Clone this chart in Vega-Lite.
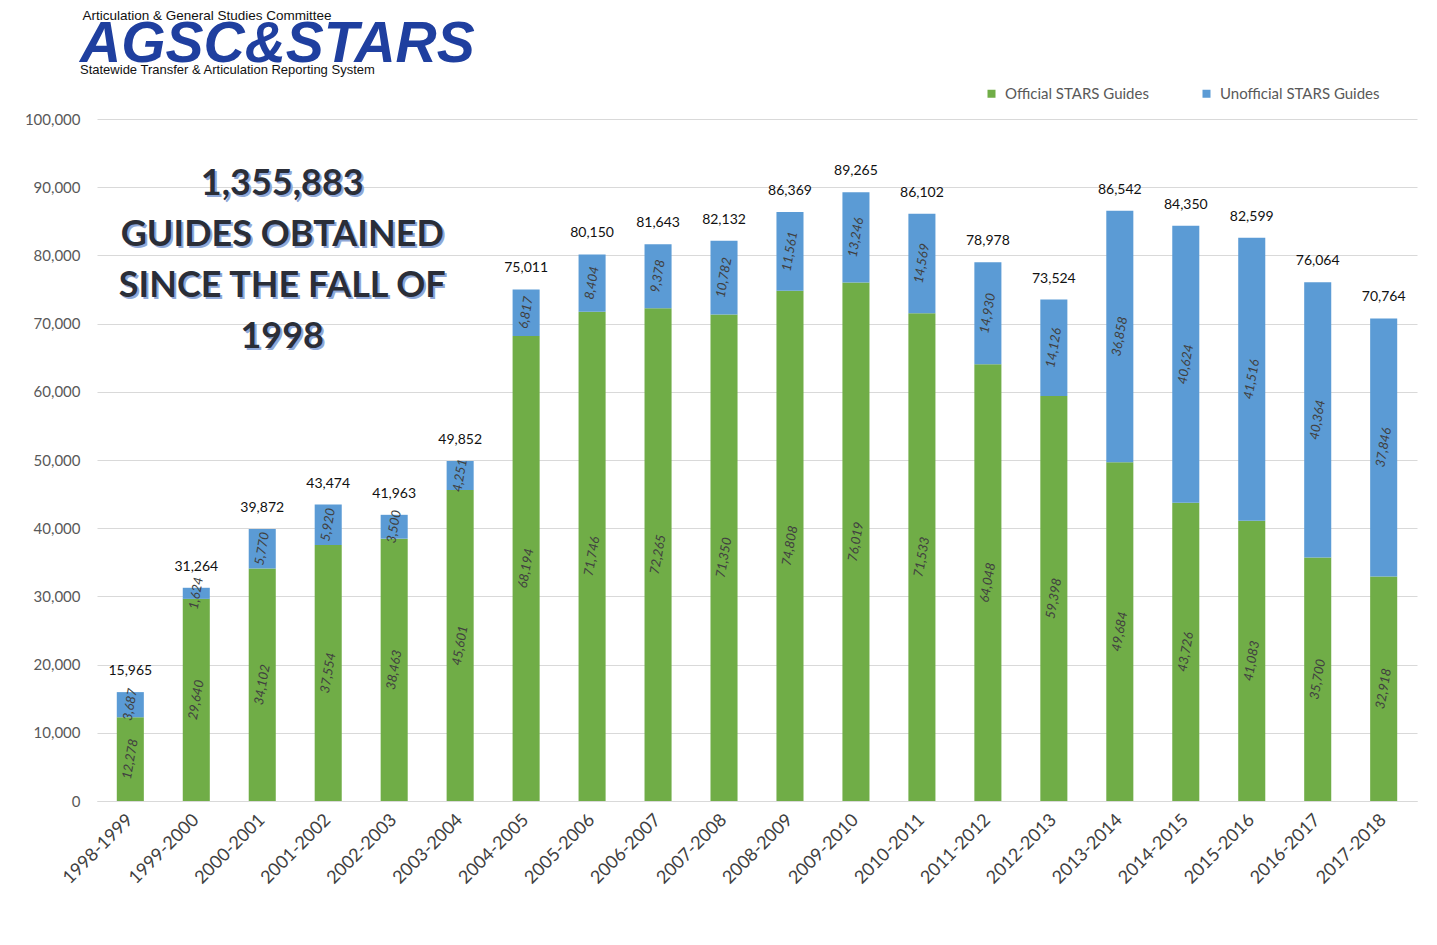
{
  "$schema": "https://vega.github.io/schema/vega-lite/v6.json",
  "width": 1320,
  "height": 682,
  "autosize": "none",
  "padding": {"left": 97, "top": 119, "right": 20, "bottom": 144},
  "background": "white",
  "config": {"view": {"stroke": null}, "font": "Lato"},
  "title": {
    "text": "AGSC&STARS",
    "subtitle": "Statewide Transfer & Articulation Reporting System",
    "anchor": "start",
    "frame": "group",
    "offset": -70,
    "dx": -17,
    "font": "Liberation Sans",
    "fontSize": 57,
    "fontStyle": "italic",
    "fontWeight": "bold",
    "color": "#1f3f9f",
    "subtitleFont": "Liberation Sans",
    "subtitleFontSize": 13,
    "subtitleFontWeight": "normal",
    "subtitleColor": "#111111",
    "subtitlePadding": -10
  },
  "datasets": {
    "guides": [
      {"year": "1998-1999", "type": "Official STARS Guides", "value": 12278},
      {"year": "1998-1999", "type": "Unofficial STARS Guides", "value": 3687},
      {"year": "1999-2000", "type": "Official STARS Guides", "value": 29640},
      {"year": "1999-2000", "type": "Unofficial STARS Guides", "value": 1624},
      {"year": "2000-2001", "type": "Official STARS Guides", "value": 34102},
      {"year": "2000-2001", "type": "Unofficial STARS Guides", "value": 5770},
      {"year": "2001-2002", "type": "Official STARS Guides", "value": 37554},
      {"year": "2001-2002", "type": "Unofficial STARS Guides", "value": 5920},
      {"year": "2002-2003", "type": "Official STARS Guides", "value": 38463},
      {"year": "2002-2003", "type": "Unofficial STARS Guides", "value": 3500},
      {"year": "2003-2004", "type": "Official STARS Guides", "value": 45601},
      {"year": "2003-2004", "type": "Unofficial STARS Guides", "value": 4251},
      {"year": "2004-2005", "type": "Official STARS Guides", "value": 68194},
      {"year": "2004-2005", "type": "Unofficial STARS Guides", "value": 6817},
      {"year": "2005-2006", "type": "Official STARS Guides", "value": 71746},
      {"year": "2005-2006", "type": "Unofficial STARS Guides", "value": 8404},
      {"year": "2006-2007", "type": "Official STARS Guides", "value": 72265},
      {"year": "2006-2007", "type": "Unofficial STARS Guides", "value": 9378},
      {"year": "2007-2008", "type": "Official STARS Guides", "value": 71350},
      {"year": "2007-2008", "type": "Unofficial STARS Guides", "value": 10782},
      {"year": "2008-2009", "type": "Official STARS Guides", "value": 74808},
      {"year": "2008-2009", "type": "Unofficial STARS Guides", "value": 11561},
      {"year": "2009-2010", "type": "Official STARS Guides", "value": 76019},
      {"year": "2009-2010", "type": "Unofficial STARS Guides", "value": 13246},
      {"year": "2010-2011", "type": "Official STARS Guides", "value": 71533},
      {"year": "2010-2011", "type": "Unofficial STARS Guides", "value": 14569},
      {"year": "2011-2012", "type": "Official STARS Guides", "value": 64048},
      {"year": "2011-2012", "type": "Unofficial STARS Guides", "value": 14930},
      {"year": "2012-2013", "type": "Official STARS Guides", "value": 59398},
      {"year": "2012-2013", "type": "Unofficial STARS Guides", "value": 14126},
      {"year": "2013-2014", "type": "Official STARS Guides", "value": 49684},
      {"year": "2013-2014", "type": "Unofficial STARS Guides", "value": 36858},
      {"year": "2014-2015", "type": "Official STARS Guides", "value": 43726},
      {"year": "2014-2015", "type": "Unofficial STARS Guides", "value": 40624},
      {"year": "2015-2016", "type": "Official STARS Guides", "value": 41083},
      {"year": "2015-2016", "type": "Unofficial STARS Guides", "value": 41516},
      {"year": "2016-2017", "type": "Official STARS Guides", "value": 35700},
      {"year": "2016-2017", "type": "Unofficial STARS Guides", "value": 40364},
      {"year": "2017-2018", "type": "Official STARS Guides", "value": 32918},
      {"year": "2017-2018", "type": "Unofficial STARS Guides", "value": 37846}
    ],
    "note": [{"text": "1,355,883\nGUIDES OBTAINED\nSINCE THE FALL OF\n1998"}]
  },
  "data": {"name": "guides"},
  "encoding": {
    "x": {
      "field": "year",
      "type": "nominal",
      "sort": null,
      "scale": {"paddingInner": 0.59, "paddingOuter": 0.3},
      "axis": {
        "title": null,
        "labelAngle": -45,
        "labelAlign": "right",
        "labelBaseline": "middle",
        "labelFontSize": 18,
        "labelColor": "#404040",
        "labelPadding": 16,
        "ticks": false,
        "domainColor": "#d9d9d9"
      }
    }
  },
  "layer": [
    {
      "mark": {"type": "bar"},
      "encoding": {
        "y": {
          "field": "value",
          "type": "quantitative",
          "stack": "zero",
          "scale": {"domain": [0, 100000]},
          "axis": {
            "title": "Articulation & General Studies Committee",
            "titleAngle": 0,
            "titleX": -15,
            "titleY": -104,
            "titleAlign": "left",
            "titleBaseline": "middle",
            "titleFont": "Liberation Sans",
            "titleFontSize": 13.5,
            "titleFontWeight": "normal",
            "titleColor": "#111111",
            "tickCount": 10,
            "format": ",.0f",
            "labelFontSize": 15,
            "labelColor": "#595959",
            "labelPadding": 17,
            "ticks": false,
            "domain": false,
            "gridColor": "#d9d9d9"
          }
        },
        "order": {"field": "type", "sort": "ascending"},
        "color": {
          "field": "type",
          "type": "nominal",
          "scale": {
            "domain": ["Official STARS Guides", "Unofficial STARS Guides"],
            "range": ["#70AD47", "#5B9BD5"]
          },
          "legend": {
            "title": null,
            "orient": "none",
            "direction": "horizontal",
            "legendX": 887,
            "legendY": -33,
            "symbolType": "square",
            "symbolSize": 64,
            "symbolStrokeWidth": 0,
            "labelFontSize": 15,
            "labelColor": "#595959",
            "labelOffset": 6,
            "columnPadding": 50
          }
        }
      }
    },
    {
      "mark": {"type": "text", "angle": 280, "fontSize": 13, "fontStyle": "italic", "color": "#404040", "align": "center", "baseline": "middle"},
      "encoding": {
        "y": {"field": "value", "type": "quantitative", "stack": "zero", "bandPosition": 0.5},
        "detail": {"field": "type"},
        "order": {"field": "type", "sort": "ascending"},
        "text": {"field": "value", "type": "quantitative", "format": ","}
      }
    },
    {
      "transform": [{"aggregate": [{"op": "sum", "field": "value", "as": "total"}], "groupby": ["year"]}],
      "mark": {"type": "text", "fontSize": 14, "color": "#111111", "baseline": "bottom", "dy": -14},
      "encoding": {
        "y": {"field": "total", "type": "quantitative"},
        "text": {"field": "total", "type": "quantitative", "format": ","}
      }
    },
    {
      "data": {"name": "note"},
      "mark": {"type": "text", "fontSize": 36, "fontWeight": "bold", "color": "#8fa8d8", "lineBreak": "\n", "lineHeight": 51, "align": "center", "baseline": "middle", "dx": 22, "dy": 2},
      "encoding": {
        "x": {"datum": "2000-2001"},
        "y": {"datum": 90500},
        "text": {"field": "text"}
      }
    },
    {
      "data": {"name": "note"},
      "mark": {"type": "text", "fontSize": 36, "fontWeight": "bold", "color": "#2a2e38", "lineBreak": "\n", "lineHeight": 51, "align": "center", "baseline": "middle", "dx": 20},
      "encoding": {
        "x": {"datum": "2000-2001"},
        "y": {"datum": 90500},
        "text": {"field": "text"}
      }
    }
  ]
}
